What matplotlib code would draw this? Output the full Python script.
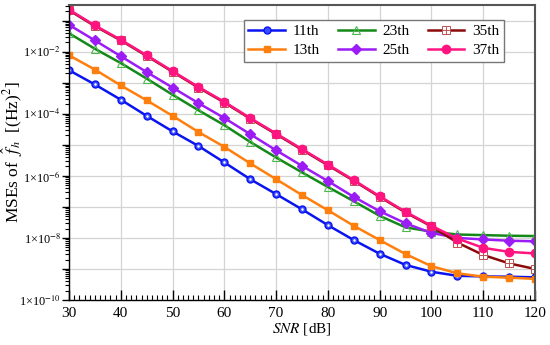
import numpy as np
import matplotlib
matplotlib.use("Agg")
import matplotlib.pyplot as plt
from matplotlib.ticker import LogLocator, FuncFormatter, MultipleLocator, NullFormatter

snr = [30, 35, 40, 45, 50, 55, 60, 65, 70, 75, 80, 85, 90, 95, 100, 105, 110, 115, 120]

log_11 = [-2.60, -3.06, -3.55, -4.07, -4.57, -5.04, -5.57, -6.11, -6.59, -7.08, -7.59, -8.07, -8.51, -8.87, -9.09, -9.22, -9.24, -9.25, -9.27]
log_13 = [-2.12, -2.58, -3.09, -3.57, -4.07, -4.59, -5.07, -5.60, -6.11, -6.62, -7.11, -7.61, -8.07, -8.52, -8.91, -9.14, -9.25, -9.28, -9.32]
log_23 = [-1.41, -1.91, -2.37, -2.87, -3.39, -3.89, -4.37, -4.91, -5.41, -5.89, -6.36, -6.82, -7.29, -7.66, -7.80, -7.89, -7.91, -7.93, -7.94]
log_25 = [-1.14, -1.64, -2.15, -2.66, -3.16, -3.66, -4.14, -4.66, -5.18, -5.68, -6.17, -6.68, -7.14, -7.53, -7.84, -8.00, -8.05, -8.09, -8.11]
log_35 = [-0.67, -1.18, -1.64, -2.14, -2.65, -3.16, -3.64, -4.16, -4.66, -5.16, -5.66, -6.16, -6.68, -7.18, -7.63, -8.15, -8.55, -8.82, -9.00]
log_37 = [-0.65, -1.16, -1.62, -2.12, -2.63, -3.14, -3.62, -4.14, -4.64, -5.14, -5.64, -6.14, -6.66, -7.16, -7.61, -8.02, -8.32, -8.45, -8.50]

labels = ["11th", "13th", "23th", "25th", "35th", "37th"]

plt.rcParams['font.family'] = ['Liberation Serif', 'DejaVu Serif']
plt.rcParams['mathtext.fontset'] = 'stix'

fig = plt.figure(figsize=(5.5, 3.45), dpi=100)
ax = fig.add_axes([0.1255, 0.1304, 0.8472, 0.8551])

def p(v):
    return 10.0 ** np.array(v)

lw = 1.8
h11, = ax.plot(snr, p(log_11), color='#0a14f0', lw=lw, marker='o', ms=5,
               mfc='#3a4cff', mec='#0a14f0', mew=1.0, label=labels[0])
ax.plot(snr, p(log_11), ls='none', marker='o', ms=1.8, mfc='white', mec='none')
h13, = ax.plot(snr, p(log_13), color='#ff7f0e', lw=lw, marker='s', ms=5,
               mfc='#ff7f0e', mec='#ff7f0e', label=labels[1])
h23, = ax.plot(snr, p(log_23), color='#14891a', lw=lw, marker='^', ms=5.5,
               mfc='none', mec='#4cb84c', mew=0.8, label=labels[2])
h25, = ax.plot(snr, p(log_25), color='#9b1cf5', lw=lw, marker='D', ms=5,
               mfc='#9b1cf5', mec='#9b1cf5', label=labels[3])
h35, = ax.plot(snr, p(log_35), color='#8b0a0a', lw=lw, marker='s', ms=5.5,
               mfc='white', mec='#c05050', mew=0.7, label=labels[4])
h35b, = ax.plot(snr, p(log_35), ls='none', marker='+', ms=5.5, mec='#c05050', mew=0.7)
h37, = ax.plot(snr, p(log_37), color='#ff1480', lw=lw, marker='o', ms=6,
               mfc='#ff1480', mec='#ff1480', label=labels[5])

ax.set_yscale('log')
ax.set_xlim(30, 120)
ax.set_ylim(1e-10, 10 ** -0.5)

ax.xaxis.set_major_locator(MultipleLocator(10))
ax.xaxis.set_minor_locator(MultipleLocator(1))
ax.yaxis.set_major_locator(LogLocator(base=10, numticks=20))
ax.yaxis.set_minor_locator(LogLocator(base=10, subs=np.arange(2, 10), numticks=20))
ax.yaxis.set_minor_formatter(NullFormatter())

def yfmt(v, pos):
    e = int(round(np.log10(v)))
    if e % 2 == 0:
        return '1\u00d710$^{\u2212%d}$' % (-e)
    return ''
ax.yaxis.set_major_formatter(FuncFormatter(yfmt))

ax.tick_params(axis='x', which='major', direction='in', length=7, width=1, labelsize=11, pad=5)
ax.tick_params(axis='x', which='minor', direction='in', length=3.5, width=0.8)
ax.tick_params(axis='y', which='major', direction='out', length=5, width=1, labelsize=8.8, pad=1)
ax.tick_params(axis='y', which='minor', direction='out', length=3, width=0.8)

ax.grid(True, which='major', axis='x', color='#d4d4d4', lw=0.9)
ax.grid(True, which='major', axis='y', color='#d4d4d4', lw=0.9)
ax.set_axisbelow(True)

for s in ['top', 'right']:
    ax.spines[s].set_color('#555555')
    ax.spines[s].set_linewidth(1.5)
for s in ['left', 'bottom']:
    ax.spines[s].set_color('black')
    ax.spines[s].set_linewidth(1.0)

ax.set_xlabel(r'$SNR$ [dB]', fontsize=11, labelpad=1)
ax.set_ylabel(r'MSEs of  $\hat{f}_h$  [(Hz)$^2$]', fontsize=12.5)
ax.yaxis.set_label_coords(-0.095, 0.5)

leg = ax.legend([h11, h13, h23, h25, (h35, h35b), h37], labels, ncol=3,
                loc='upper right', bbox_to_anchor=(0.933, 0.95), fontsize=11,
                frameon=True, fancybox=False, edgecolor='#777777', framealpha=1,
                handlelength=2.4, columnspacing=1.2, handletextpad=0.5,
                borderpad=0.3, labelspacing=0.35, borderaxespad=0)
leg.get_frame().set_linewidth(1.0)

fig.savefig('out.png', dpi=100)
